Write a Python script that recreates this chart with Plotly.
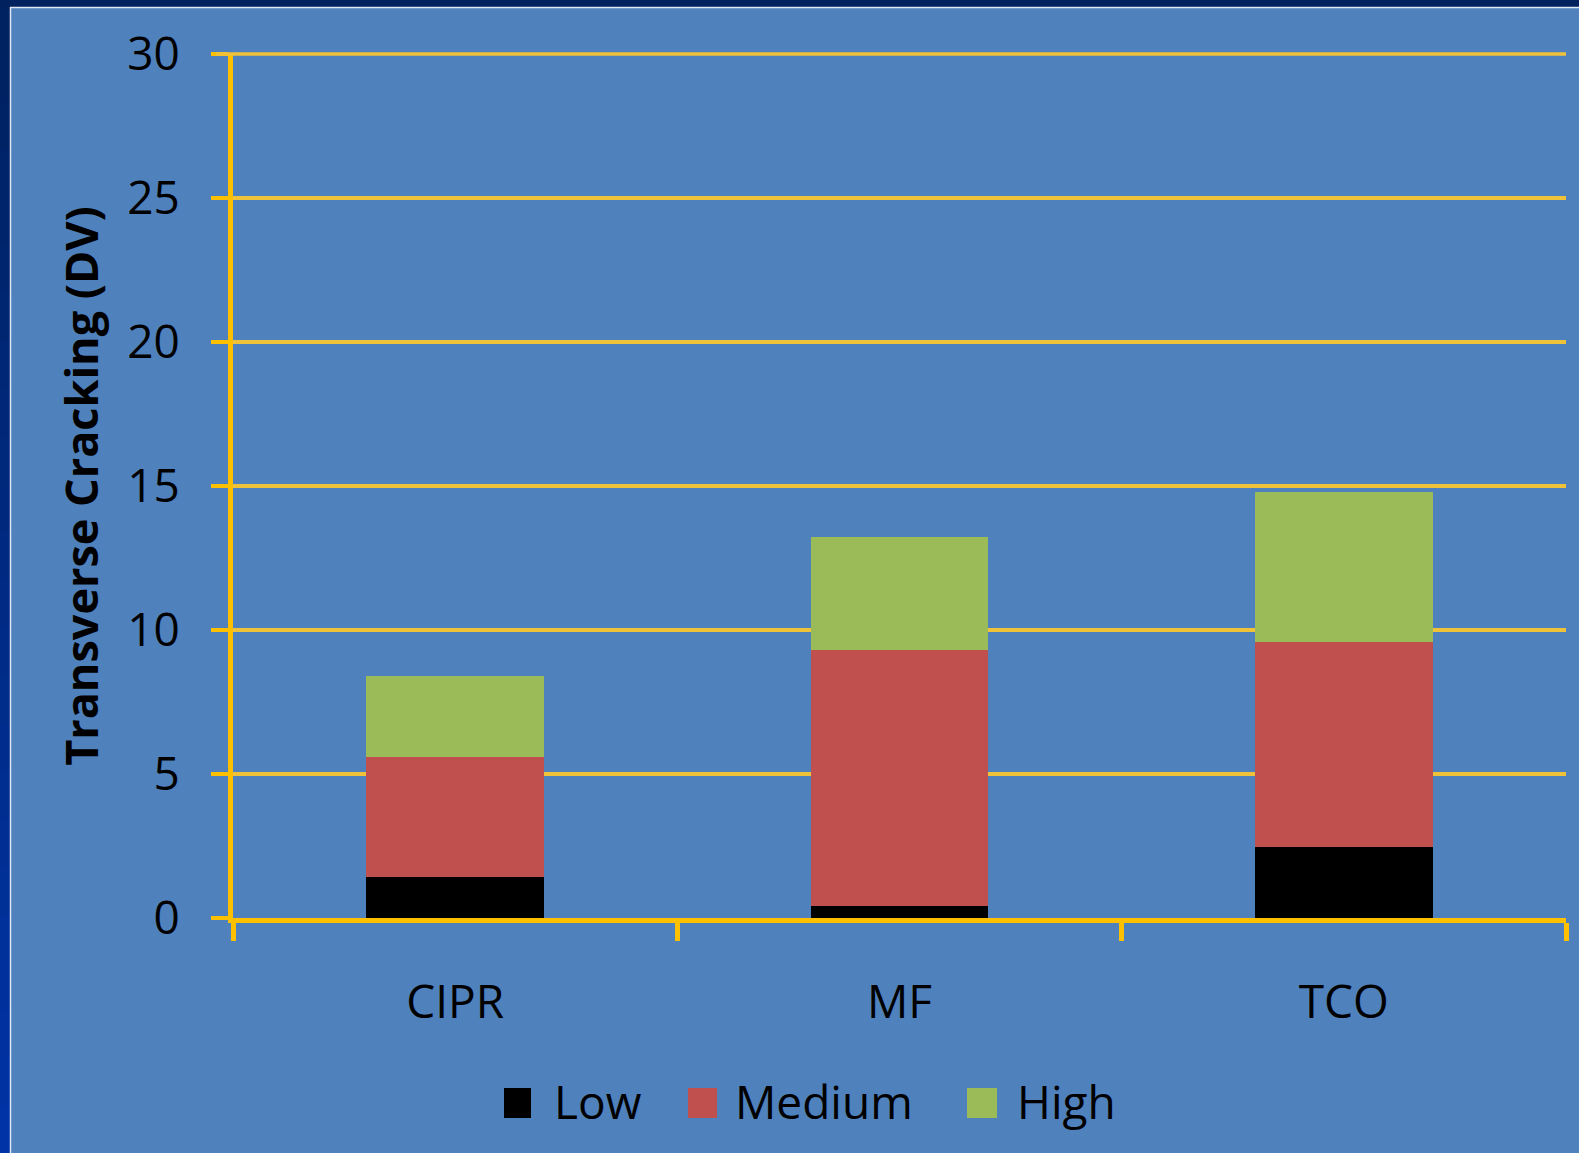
import plotly.graph_objects as go

# Transverse cracking by treatment, split by severity level
categories = ["CIPR", "MF", "TCO"]
low = [1.44, 0.40, 2.47]
medium = [4.15, 8.89, 7.10]
high = [2.82, 3.94, 5.21]

series_names = ["Low", "Medium", "High"]
series_values = [low, medium, high]
series_colors = ["#000000", "#C0504D", "#9BBB59"]

y_ticks = [0, 5, 10, 15, 20, 25, 30]

W, H = 1579, 1153
L, R, T, B = 233, 13, 54, 235
PW, PH = W - L - R, H - T - B

FONT = "Open Sans"
GOLD = "#FFC000"
GRID = "#F0C23A"
BG = "#4F81BD"


def px_x(px):
    return (px - L) / PW


def px_y(py):
    return (H - B - py) / PH


fig = go.Figure()
for name, vals, col in zip(series_names, series_values, series_colors):
    fig.add_trace(go.Bar(
        x=categories, y=vals, name=name,
        marker=dict(color=col, line=dict(width=0)),
        width=0.4,
    ))

shapes = []
# dark slide frame at top and left, with a thin light edge
shapes.append(dict(type="rect", xref="paper", yref="paper",
                   x0=px_x(-5), x1=px_x(W + 5), y0=px_y(7), y1=px_y(-5),
                   fillcolor="#00215E", line=dict(width=0), layer="below"))
n = 24
for i in range(n):
    t = i / (n - 1)
    g = int(0x22 + t * (0x33 - 0x22))
    b = int(0x60 + t * (0xA6 - 0x60))
    y0 = 7 + (H - 7) * i / n
    y1 = 7 + (H - 7) * (i + 1) / n + 1
    shapes.append(dict(type="rect", xref="paper", yref="paper",
                       x0=px_x(-5), x1=px_x(10), y0=px_y(y1), y1=px_y(y0),
                       fillcolor=f"rgb(0,{g},{b})", line=dict(width=0), layer="below"))
shapes.append(dict(type="line", xref="paper", yref="paper",
                   x0=px_x(10), x1=px_x(W + 5), y0=px_y(7.5), y1=px_y(7.5),
                   line=dict(color="#DDE6F2", width=1.5), layer="below"))
shapes.append(dict(type="line", xref="paper", yref="paper",
                   x0=px_x(10.5), x1=px_x(10.5), y0=px_y(7), y1=px_y(H + 5),
                   line=dict(color="#DDE6F2", width=1.5), layer="below"))

# top gridline sits on the plot's upper edge, so draw it unclipped
shapes.append(dict(type="line", xref="paper", yref="paper",
                   x0=px_x(216), x1=1, y0=1, y1=1,
                   line=dict(color=GRID, width=3.5)))

# legend drawn as large swatches with labels
legend_sq = [(504, 531), (688, 717), (967, 997)]
legend_tx = [552, 733, 1015]
annotations = []
for name, col, (sx0, sx1), tx in zip(series_names, series_colors, legend_sq, legend_tx):
    shapes.append(dict(type="rect", xref="paper", yref="paper",
                       x0=px_x(sx0), x1=px_x(sx1), y0=px_y(1118), y1=px_y(1088),
                       fillcolor=col, line=dict(width=0)))
    annotations.append(dict(xref="paper", yref="paper", x=px_x(tx), y=px_y(1101),
                            xanchor="left", yanchor="middle", showarrow=False,
                            text=name, font=dict(family=FONT, size=46, color="#000000")))

fig.update_layout(
    width=W, height=H,
    margin=dict(l=L, r=R, t=T, b=B, pad=0),
    barmode="stack",
    paper_bgcolor=BG,
    plot_bgcolor=BG,
    showlegend=False,
    shapes=shapes,
    annotations=annotations,
    font=dict(family=FONT, color="#000000"),
    xaxis=dict(
        range=[-0.5, 2.5],
        showline=True, linecolor=GOLD, linewidth=5,
        ticks="outside", tickson="boundaries", ticklen=18, tickwidth=5, tickcolor=GOLD,
        showgrid=False, zeroline=False,
        tickfont=dict(family=FONT, size=46, color="#000000"),
        ticklabelstandoff=40,
    ),
    yaxis=dict(
        range=[0, 30],
        tickvals=y_ticks,
        showline=True, linecolor=GOLD, linewidth=5,
        ticks="outside", ticklen=17, tickwidth=3.5, tickcolor=GOLD,
        showgrid=True, gridcolor=GRID, gridwidth=3.5,
        zeroline=False,
        tickfont=dict(family=FONT, size=46, color="#000000"),
        ticklabelstandoff=22,
        title=dict(text="Transverse Cracking (DV)",
                   font=dict(family=FONT, size=45, color="#000000", weight=700),
                   standoff=16),
    ),
)

fig.write_html("out.html")
